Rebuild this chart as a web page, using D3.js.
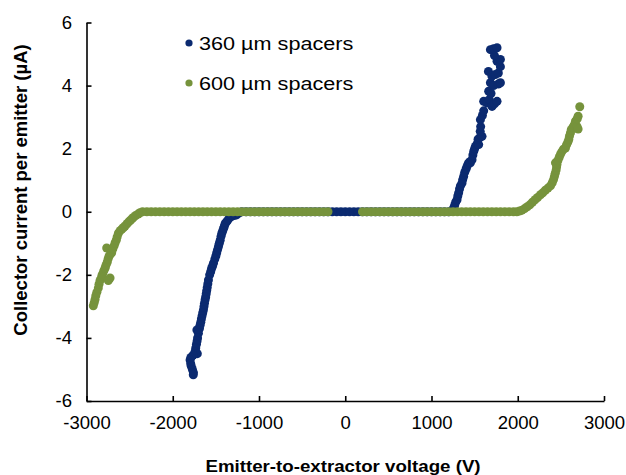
<!DOCTYPE html>
<html>
<head>
<meta charset="utf-8">
<script src="https://cdn.jsdelivr.net/npm/d3@7"></script>
<style>
  body { margin: 0; background: #fff; }
  svg { display: block; font-family: Arial, "Liberation Sans", sans-serif; }
</style>
</head>
<body>
<svg id="chart" width="626" height="475"></svg>
<script>
// tick labels
const xTicks = [-3000, -2000, -1000, 0, 1000, 2000, 3000];
const yTicks = [-6, -4, -2, 0, 2, 4, 6];

const seriesNames = ["360 µm spacers", "600 µm spacers"];

// 360 µm spacers : [voltage (V), current (µA)]
const blueNeg = [
  [-1235, -0.04], [-1260, -0.1], [-1290, -0.12], [-1320, -0.15], [-1345, -0.2],
  [-1365, -0.28], [-1380, -0.33], [-1393, -0.38], [-1402, -0.46], [-1410, -0.52],
  [-1420, -0.6], [-1431, -0.68], [-1440, -0.78], [-1450, -0.9], [-1460, -1.0],
  [-1470, -1.1], [-1480, -1.2], [-1490, -1.3], [-1500, -1.4], [-1512, -1.5],
  [-1528, -1.63], [-1538, -1.72], [-1550, -1.8], [-1560, -1.9], [-1572, -2.0],
  [-1586, -2.16], [-1593, -2.28], [-1600, -2.4], [-1606, -2.5], [-1612, -2.6],
  [-1618, -2.7], [-1625, -2.79], [-1632, -2.9], [-1638, -3.0], [-1644, -3.11],
  [-1652, -3.2], [-1660, -3.3], [-1668, -3.4], [-1675, -3.5], [-1683, -3.6],
  [-1690, -3.7], [-1720, -3.75], [-1702, -3.85], [-1712, -4.0], [-1718, -4.1],
  [-1725, -4.2], [-1733, -4.32], [-1741, -4.43], [-1715, -4.5], [-1765, -4.55],
  [-1790, -4.62], [-1799, -4.7], [-1792, -4.82], [-1785, -4.9], [-1772, -5.0],
  [-1760, -5.1], [-1762, -5.17]
];
const blueZero = [
  -1200, -1150, -1100, -1050, -1000, -950, -900, -850, -800, -750, -700, -650,
  -600, -550, -500, -450, -400, -350, -300, -250, -200, -150, -100, -50, 0,
  50, 100, 150, 200, 250, 300, 350, 400, 450, 500, 550, 600, 650, 700, 750,
  800, 850, 900, 950, 1000, 1050, 1100, 1150, 1200
];
const bluePos = [
  [1230, 0.02], [1250, 0.06], [1257, 0.12], [1268, 0.2], [1280, 0.3],
  [1296, 0.38], [1305, 0.5], [1315, 0.6], [1325, 0.72], [1335, 0.82],
  [1354, 0.91], [1362, 1.02], [1373, 1.12], [1385, 1.25], [1400, 1.35],
  [1412, 1.44], [1425, 1.52], [1440, 1.58], [1451, 1.55], [1470, 1.65],
  [1480, 1.8], [1490, 1.92], [1500, 2.0], [1509, 2.07], [1528, 2.15],
  [1547, 2.13], [1540, 2.3], [1560, 2.35], [1586, 2.39], [1565, 2.55],
  [1570, 2.7], [1567, 2.92], [1590, 3.05], [1605, 3.2], [1605, 3.5],
  [1640, 3.45], [1670, 3.55], [1702, 3.34], [1730, 3.42], [1760, 3.5],
  [1663, 3.82], [1690, 3.75], [1683, 4.09], [1720, 4.0], [1775, 4.05],
  [1799, 4.09], [1660, 4.45], [1700, 4.3], [1740, 4.35], [1775, 4.4],
  [1799, 4.6], [1760, 4.77], [1799, 4.83], [1730, 4.95], [1683, 5.14],
  [1720, 5.17], [1760, 5.2]
];

// 600 µm spacers
const greenNeg = [
  [-2921, -2.98], [-2910, -2.88], [-2901, -2.78], [-2892, -2.66], [-2880, -2.55],
  [-2863, -2.42], [-2855, -2.3], [-2843, -2.18], [-2824, -2.05], [-2815, -1.98],
  [-2800, -1.88], [-2785, -1.79], [-2775, -1.7], [-2727, -2.1], [-2747, -2.18],
  [-2760, -1.6], [-2750, -1.5], [-2740, -1.42], [-2725, -1.35], [-2766, -1.15],
  [-2708, -1.3], [-2695, -1.18], [-2680, -1.08], [-2669, -0.99], [-2655, -0.9],
  [-2645, -0.8], [-2630, -0.68], [-2610, -0.6], [-2590, -0.55], [-2570, -0.5],
  [-2553, -0.45], [-2530, -0.38], [-2510, -0.32], [-2490, -0.27], [-2470, -0.22],
  [-2457, -0.18], [-2430, -0.12], [-2400, -0.07], [-2380, -0.03]
];
const greenZero = [
  -2350, -2300, -2250, -2200, -2150, -2100, -2050, -2000, -1950, -1900, -1850,
  -1800, -1750, -1700, -1650, -1600, -1550, -1500, -1450, -1400, -1350, -1300,
  -1250, -1200, -1150, -1100, -1050, -1000, -950, -900, -850, -800, -750, -700,
  -650, -600, -550, -500, -450, -400, -350, -300, -250, -200,
  200, 250, 300, 350, 400, 450, 500, 550, 600, 650, 700, 750, 800, 850, 900,
  950, 1000, 1050, 1100, 1150, 1200, 1250, 1300, 1350, 1400, 1450, 1500, 1550,
  1600, 1650, 1700, 1750, 1800, 1850, 1900, 1950, 1990
];
const greenPos = [
  [2020, 0.02], [2050, 0.05], [2080, 0.1], [2110, 0.16], [2140, 0.22],
  [2170, 0.3], [2200, 0.38], [2230, 0.45], [2263, 0.54], [2290, 0.6],
  [2320, 0.68], [2350, 0.75], [2379, 0.82], [2400, 0.92], [2415, 1.02],
  [2425, 1.12], [2435, 1.22], [2445, 1.32], [2450, 1.42], [2455, 1.5],
  [2437, 1.55], [2465, 1.62], [2480, 1.72], [2495, 1.82], [2510, 1.9],
  [2530, 1.98], [2553, 2.02], [2565, 2.12], [2580, 2.2], [2592, 2.29],
  [2600, 2.4], [2611, 2.5], [2620, 2.6], [2640, 2.68], [2655, 2.75],
  [2669, 2.87], [2688, 2.7], [2700, 2.62], [2690, 2.95], [2700, 3.03],
  [2719, 3.33]
];

const blueColor = "#0b2a70";
const greenColor = "#76933c";

const svg = d3.select("#chart");

const x = d3.scaleLinear().domain([-3000, 3000]).range([86.5, 604]);
const y = d3.scaleLinear().domain([-6, 6]).range([401, 22.5]);

const blueData = blueNeg
  .concat(blueZero.map((v) => [v, 0]))
  .concat(bluePos);
const greenData = greenNeg
  .concat(greenZero.map((v) => [v, 0]))
  .concat(greenPos);

// points (green drawn over blue)
[
  [blueData, blueColor],
  [greenData, greenColor],
].forEach(([data, color]) => {
  svg
    .append("g")
    .selectAll("circle")
    .data(data)
    .join("circle")
    .attr("cx", (d) => x(d[0]))
    .attr("cy", (d) => y(d[1]))
    .attr("r", 4.5)
    .attr("fill", color);
});

// axes
const xAxis = svg
  .append("g")
  .attr("transform", `translate(0,${y(-6)})`)
  .call(
    d3
      .axisBottom(x)
      .tickValues(xTicks)
      .tickFormat(d3.format("d"))
      .tickSizeInner(-5)
      .tickSizeOuter(0)
      .tickPadding(15),
  );
const yAxis = svg
  .append("g")
  .attr("transform", `translate(${x(-3000)},0)`)
  .call(
    d3
      .axisLeft(y)
      .tickValues(yTicks)
      .tickFormat(d3.format("d"))
      .tickSizeInner(-5)
      .tickSizeOuter(0)
      .tickPadding(14),
  );

[xAxis, yAxis].forEach((ax) => {
  ax.selectAll("path, line").attr("stroke", "#000").attr("stroke-width", 1.6);
  ax.selectAll("text")
    .attr("fill", "#000")
    .style("font-size", "18px")
    .style("font-family", "Arial, 'Liberation Sans', sans-serif")
    .text((d) => String(d).replace("−", "-"))
    .attr("transform", "scale(1.03,1)");
});

// axis titles
svg
  .append("text")
  .attr("transform", "translate(343,472) scale(1.1,1)")
  .attr("text-anchor", "middle")
  .style("font-size", "17px")
  .style("font-weight", "bold")
  .text("Emitter-to-extractor voltage (V)");

svg
  .append("text")
  .attr("transform", "translate(27,190) rotate(-90)")
  .attr("text-anchor", "middle")
  .style("font-size", "18.5px")
  .style("font-weight", "bold")
  .text("Collector current per emitter (µA)");

// legend
const legend = svg
  .append("g")
  .selectAll("g")
  .data(seriesNames)
  .join("g")
  .attr("transform", (d, i) => `translate(189,${43 + i * 40})`);
legend
  .append("circle")
  .attr("r", 3.6)
  .attr("fill", (d, i) => (i === 0 ? blueColor : greenColor));
legend
  .append("text")
  .attr("transform", "translate(10,7) scale(1.17,1)")
  .style("font-size", "18.5px")
  .text((d) => d);
</script>
</body>
</html>
